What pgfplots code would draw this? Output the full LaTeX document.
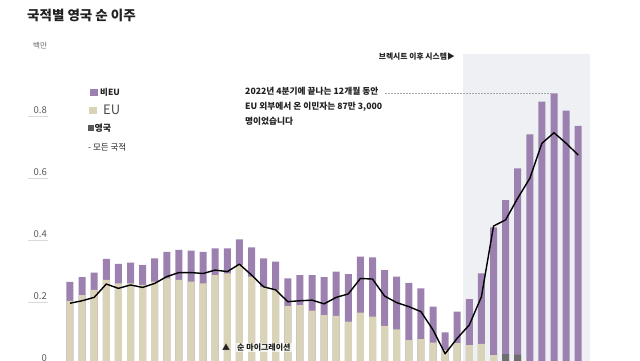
\documentclass[border=0pt]{standalone}
\usepackage{fontspec}
\setmainfont{Noto Sans CJK KR}
\usepackage{pgfplots}
\usepackage{pgfplotstable}
\pgfplotsset{compat=1.18}
\definecolor{noneu}{HTML}{9B80B0}
\definecolor{euc}{HTML}{D9D4B8}
\definecolor{ukc}{HTML}{6E6E6E}
\definecolor{bgshade}{HTML}{EEF0F3}
\definecolor{txt}{HTML}{222222}
\pgfplotstableread{
i tot eu all
0 0.265 0.204 0.196
1 0.280 0.222 0.204
2 0.295 0.239 0.215
3 0.339 0.271 0.258
4 0.323 0.260 0.244
5 0.327 0.260 0.255
6 0.319 0.255 0.247
7 0.341 0.266 0.260
8 0.362 0.276 0.282
9 0.368 0.271 0.295
10 0.366 0.266 0.295
11 0.362 0.260 0.292
12 0.373 0.287 0.303
13 0.373 0.292 0.298
14 0.402 0.319 0.322
15 0.376 0.282 0.287
16 0.341 0.249 0.249
17 0.330 0.239 0.239
18 0.276 0.187 0.201
19 0.287 0.190 0.204
20 0.287 0.172 0.206
21 0.280 0.158 0.194
22 0.298 0.155 0.215
23 0.290 0.137 0.226
24 0.346 0.166 0.276
25 0.344 0.153 0.274
26 0.303 0.123 0.219
27 0.282 0.112 0.198
28 0.262 0.077 0.185
29 0.244 0.080 0.169
30 0.185 0.069 0.110
31 0.102 0.045 0.033
32 0.169 0.067 0.083
33 0.209 0.061 0.126
34 0.292 0.065 0.217
35 0.441 0.029 0.445
36 0.529 0.000 0.465
37 0.631 0.000 0.535
38 0.741 0.000 0.599
39 0.846 0.000 0.712
40 0.873 0.000 0.746
41 0.817 0.000 0.712
42 0.768 0.000 0.674
}\data
\pgfplotstableread{
i uk
36 0.032
37 0.030
}\ukdata
\begin{document}
\begin{tikzpicture}[x=1pt,y=1pt]
\path[use as bounding box] (0,0) rectangle (640,360);
\begin{axis}[
  at={(48pt,-4pt)}, anchor=south west,
  width=552pt, height=310pt, scale only axis,
  xmin=-1.818, xmax=43.8, ymin=0, ymax=1.0,
  axis line style={draw=none},
  xtick=\empty,
  ytick={0,0.2,0.4,0.6,0.8},
  yticklabels={0,0.2,0.4,0.6,0.8},
  ytick pos=left,
  tick align=outside,
  major tick length=20pt,
  y tick style={gray!30, line width=0.5pt},
  yticklabel style={anchor=south east, inner sep=0pt, font=\fontsize{9.5}{10}\selectfont, text=black!65, xshift=19pt, yshift=2pt},
  clip=false,
]
\fill[bgshade] (axis cs:32.5,0) rectangle (axis cs:42.98,1.0);
\addplot[ybar, bar width=7pt, bar shift=0pt, fill=noneu, draw=none] table[x=i, y=tot] {\data};
\addplot[ybar, bar width=7pt, bar shift=0pt, fill=euc, draw=none] table[x=i, y=eu] {\data};
\addplot[ybar, bar width=7pt, bar shift=0pt, fill=ukc, draw=none] table[x=i, y=uk] {\ukdata};
\addplot[black, line width=1.4pt, mark=none, line join=round] table[x=i, y=all] {\data};
\draw[gray!70, densely dotted, line width=0.5pt] (axis cs:26.03,0.873) -- (axis cs:39.67,0.873);
\end{axis}
% title and unit
\node[anchor=west, inner sep=0pt, text=txt, font=\fontsize{13.5}{14}\selectfont\bfseries] at (27,345) {국적별 영국 순 이주};
\node[anchor=west, inner sep=0pt, text=black!60, font=\fontsize{7.5}{8}\selectfont] at (33,314) {백만};
% legend
\fill[noneu] (90,264) rectangle (98,271);
\node[anchor=west, inner sep=0pt, text=txt, font=\fontsize{8.5}{9}\selectfont\bfseries] at (100,267.5) {비EU};
\fill[euc] (89,246) rectangle (97,253);
\node[anchor=west, inner sep=0pt, text=black!70, font=\fontsize{13}{14}\selectfont] at (103,250) {EU};
\fill[ukc!80!black] (88,229) rectangle (94,235);
\node[anchor=west, inner sep=0pt, text=txt, font=\fontsize{9}{10}\selectfont\bfseries] at (94.5,232) {영국};
\node[anchor=west, inner sep=0pt, text=txt, font=\fontsize{8.5}{9}\selectfont] at (88,213) {- 모든 국적};
% annotations
\node[anchor=south east, inner sep=0pt, text=txt, font=\fontsize{7.8}{8}\selectfont\bfseries] at (455,300) {브렉시트 이후 시스템▶};
\node[anchor=north west, inner sep=0pt, text=txt, align=left, font=\fontsize{8.7}{15}\selectfont\bfseries] at (245,273) {2022년 4분기에 끝나는 12개월 동안\\EU 외부에서 온 이민자는 87만 3,000\\명이었습니다};
\node[anchor=west, inner sep=0pt, text=txt, font=\fontsize{8}{9}\selectfont\bfseries] at (222,12.5) {▲};
\node[anchor=west, inner sep=1pt, fill=white, fill opacity=0.7, text opacity=1, text=txt, font=\fontsize{8}{9}\selectfont\bfseries] at (236,12.5) {순 마이그레이션};
\end{tikzpicture}
\end{document}
